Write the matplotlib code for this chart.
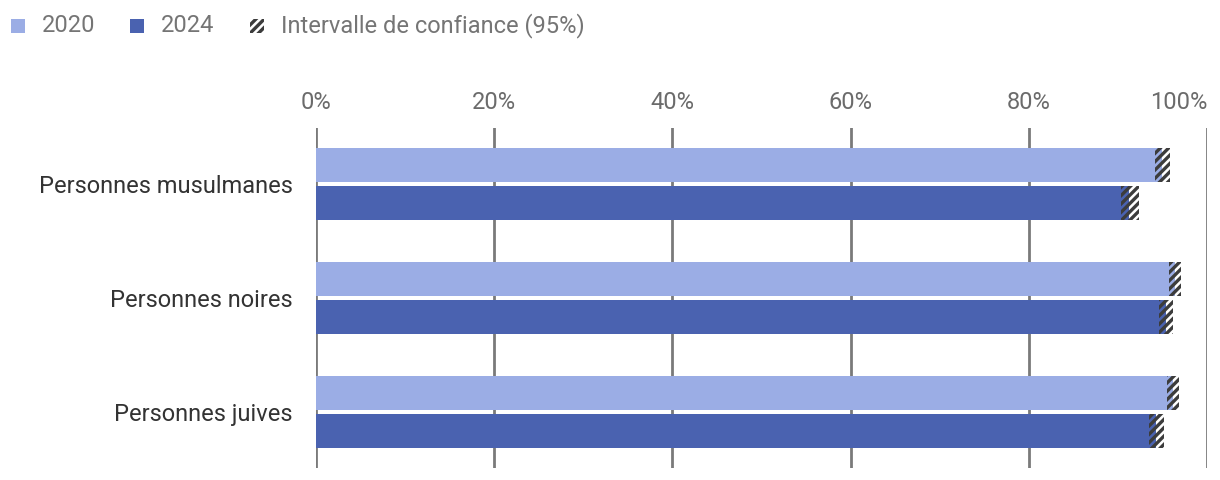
import numpy as np
import matplotlib.pyplot as plt
from matplotlib.patches import Rectangle

plt.rcParams['font.family'] = ['Roboto', 'DejaVu Sans']
plt.rcParams['hatch.linewidth'] = 2.4

categories = ["Personnes musulmanes", "Personnes noires", "Personnes juives"]
val_2020 = [95.0, 96.4, 96.2]
lo_2020 = [94.2, 95.7, 95.5]
hi_2020 = [95.8, 97.1, 96.9]
val_2024 = [91.3, 95.4, 94.3]
lo_2024 = [90.3, 94.6, 93.5]
hi_2024 = [92.4, 96.2, 95.2]
ticks = [0, 20, 40, 60, 80, 100]

c2020 = "#9badE5"
c2024 = "#4a62b0"
hatch_col = "#3c3c3c"

fig = plt.figure(figsize=(12.2, 4.8), dpi=100)
ax = fig.add_axes([316 / 1220, 1 - 468 / 480, 891 / 1220, 340 / 480])

y = np.arange(len(categories))
h = 0.298
off = 0.1667

ax.barh(y - off, val_2020, height=h, color=c2020, zorder=2)
ax.barh(y + off, val_2024, height=h, color=c2024, zorder=2)

for i in range(len(categories)):
    for yy, lo, hi in [(y[i] - off, lo_2020[i], hi_2020[i]), (y[i] + off, lo_2024[i], hi_2024[i])]:
        ax.add_patch(Rectangle((lo, yy - h / 2), hi - lo, h, facecolor="none",
                               edgecolor=hatch_col, hatch="////", linewidth=0, zorder=3))

ax.set_xlim(0, 100)
ax.set_ylim(2.49, -0.49)
ax.set_xticks(ticks)
ax.set_xticklabels([f"{t}%" for t in ticks])
ax.xaxis.tick_top()
ax.tick_params(axis="x", length=0, pad=10, labelsize=17, labelcolor="#6b6b6b")
ax.get_xticklabels()[-1].set_horizontalalignment("right")
ax.set_yticks(y)
ax.set_yticklabels(categories)
ax.tick_params(axis="y", length=0, pad=17, labelsize=17, labelcolor="#333333")
ax.grid(axis="x", color="#7a7a7a", linewidth=2, zorder=0)
for s in ax.spines.values():
    s.set_visible(False)

# legend
items = [(11, "2020", c2020, None), (130, "2024", c2024, None), (250, "Intervalle de confiance (95%)", "white", "////")]
for x0, lab, col, hat in items:
    fig.patches.append(Rectangle((x0 / 1220, 1 - 33 / 480), 14 / 1220, 14 / 480, transform=fig.transFigure,
                                 facecolor=col, edgecolor=hatch_col if hat else col, hatch=hat,
                                 linewidth=0, figure=fig))
    fig.text((x0 + 31) / 1220, 1 - 26 / 480, lab, fontsize=17, color="#757575", va="center", ha="left")

fig.savefig("out.png", dpi=100)
